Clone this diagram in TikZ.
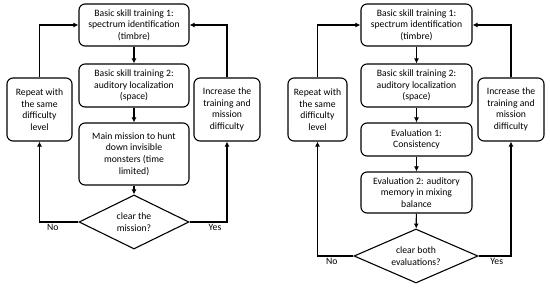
\documentclass[tikz,border=0pt]{standalone}
\usepackage{fontspec}
\setmainfont{Carlito}
\usetikzlibrary{arrows.meta,shapes.geometric}

\begin{document}
\begin{tikzpicture}[
    x=1pt, y=-1pt,
    >={Latex[length=5pt,width=5pt]}, % Set default arrow tip style
    every path/.style={line width=1.1pt},
    box/.style={draw, rounded corners=6pt, align=center, inner sep=1pt,
        font=\fontsize{9.7}{11.6}\selectfont}, % Style for rounded boxes
    check/.style={draw, diamond, align=center, inner sep=0pt,
        font=\fontsize{9.7}{11.6}\selectfont}, % Style for decision
    answer/.style={font=\fontsize{9.7}{11.6}\selectfont, inner sep=2pt}
]
\useasboundingbox (0,0) rectangle (550,289);

% Left flow
\node[box, minimum width=110, minimum height=42] (train) at (134,25)
    {Basic skill training 1:\\spectrum identification\\(timbre)};
\node[box, minimum width=110, minimum height=43] (locate) at (134,85.5)
    {Basic skill training 2:\\auditory localization\\(space)};
\node[box, minimum width=110, minimum height=62] (mission) at (134,154)
    {Main mission to hunt\\down invisible\\monsters (time\\limited)};
\node[check, minimum width=110, minimum height=54, aspect=2.04] (clear) at (134,222)
    {clear the\\mission?};
\node[box, minimum width=65, minimum height=63] (repeat) at (39.5,109.5)
    {Repeat with\\the same\\difficulty\\level};
\node[box, minimum width=66, minimum height=63] (increase) at (227,109.5)
    {Increase the\\training and\\mission\\difficulty};

\draw[->] (train) -- (locate);
\draw[->] (locate) -- (mission);
\draw[->] (mission) -- (clear);
\draw[->] (clear.west) -| node[answer, pos=0.33, below] {No} (repeat.south);
\draw[->] (repeat.north) |- (train.west);
\draw[->] (clear.east) -| node[answer, pos=0.34, below] {Yes} (increase.south);
\draw[->] (increase.north) |- (train.east);

% Right flow
\node[box, minimum width=111, minimum height=42] (rtrain) at (416.5,25)
    {Basic skill training 1:\\spectrum identification\\(timbre)};
\node[box, minimum width=111, minimum height=43] (rlocate) at (416.5,85.5)
    {Basic skill training 2:\\auditory localization\\(space)};
\node[box, minimum width=111, minimum height=33] (evalone) at (416.5,139.5)
    {Evaluation 1:\\Consistency};
\node[box, minimum width=111, minimum height=41] (evaltwo) at (416.5,192.5)
    {Evaluation 2: auditory\\memory in mixing\\balance};
\node[check, minimum width=124, minimum height=54, aspect=2.3] (rclear) at (416,256)
    {clear both\\evaluations?};
\node[box, minimum width=59, minimum height=63] (rrepeat) at (317.5,109.5)
    {Repeat with\\the same\\difficulty\\level};
\node[box, minimum width=66, minimum height=63] (rincrease) at (511,109.5)
    {Increase the\\training and\\mission\\difficulty};

\draw[->] (rtrain) -- (rlocate);
\draw[->] (rlocate) -- (evalone);
\draw[->] (evalone) -- (evaltwo);
\draw[->] (evaltwo) -- (rclear);
\draw[->] (rclear.west) -| node[answer, pos=0.3, below] {No} (rrepeat.south);
\draw[->] (rrepeat.north) |- (rtrain.west);
\draw[->] (rclear.east) -| node[answer, pos=0.28, below] {Yes} (rincrease.south);
\draw[->] (rincrease.north) |- (rtrain.east);

\end{tikzpicture}
\end{document}
